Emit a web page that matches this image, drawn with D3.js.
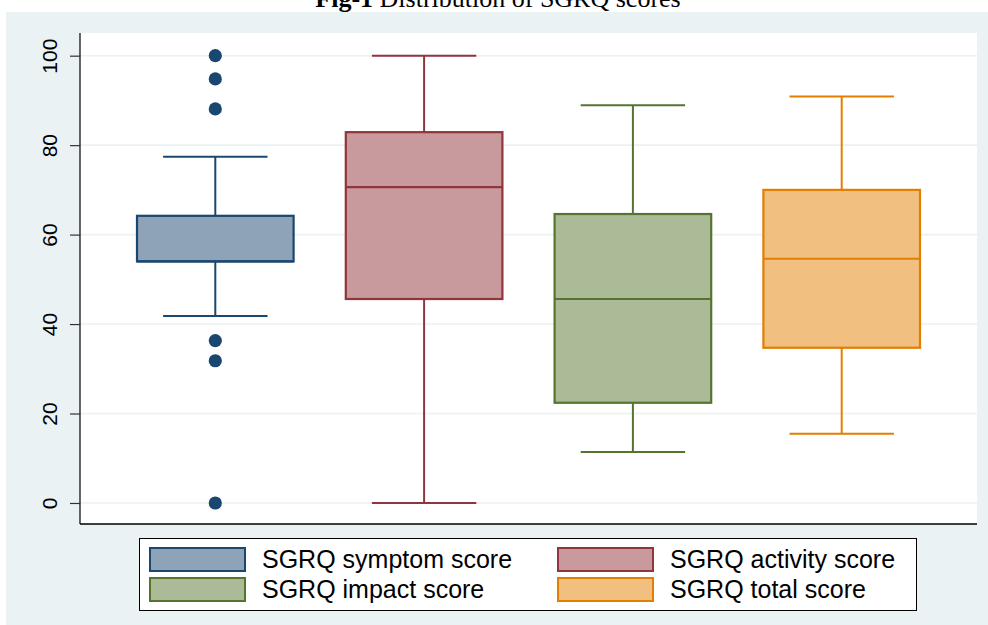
<!DOCTYPE html>
<html>
<head>
<meta charset="utf-8">
<script src="https://cdn.jsdelivr.net/npm/d3@7"></script>
<style>
  html, body { margin: 0; padding: 0; background: #ffffff; }
  svg { display: block; }
</style>
</head>
<body>
<svg id="chart" width="988" height="625"></svg>
<script>
// ---- data ----
const categories = ["SGRQ symptom score", "SGRQ activity score", "SGRQ impact score", "SGRQ total score"];
const lowerWhisker = [41.8, 0, 11.4, 15.5];
const q1Values     = [54.0, 45.6, 22.4, 34.7];
const medianValues = [54.0, 70.6, 45.6, 54.6];
const q3Values     = [64.2, 82.9, 64.6, 70.0];
const upperWhisker = [77.4, 100, 88.9, 90.9];
const outlierValues = [[100, 94.8, 88.1, 36.3, 31.8, 0], [], [], []];
const yTicks = [0, 20, 40, 60, 80, 100];
const titleBold = "Fig-1";
const titleRest = " Distribution of SGRQ scores";

// ---- styles ----
const strokeColors = ["rgb(26,71,111)", "rgb(144,53,59)", "rgb(85,117,47)", "rgb(227,126,0)"];
const fillColors   = ["rgb(142,163,184)", "rgb(200,154,157)", "rgb(171,187,151)", "rgb(241,191,128)"];
const bgColor = "rgb(234,242,243)";
const gridColor = "rgb(234,242,243)";

const svg = d3.select("#chart");

// title (partly cut off at top, as in the reference)
const title = svg.append("text")
  .attr("x", 498).attr("y", 7)
  .attr("text-anchor", "middle")
  .attr("font-family", "'Liberation Serif', 'Times New Roman', serif")
  .attr("font-size", 26)
  .attr("fill", "#000");
title.append("tspan").attr("font-weight", "bold").text(titleBold);
title.append("tspan").text(titleRest);

// graph region background
svg.append("rect").attr("x", 6).attr("y", 12).attr("width", 982).attr("height", 613).attr("fill", bgColor);

// plot region
const plot = { left: 80, right: 977, top: 33, bottom: 524 };
svg.append("rect").attr("x", plot.left).attr("y", plot.top)
  .attr("width", plot.right - plot.left).attr("height", plot.bottom - plot.top).attr("fill", "#fff");

const y = d3.scaleLinear().domain([-4.7, 105.07]).range([plot.bottom, plot.top]);
const x = d3.scalePoint().domain(categories).range([plot.left, plot.right]).padding(0.648);
const step = x.step();
const boxW = step * 0.75;
const capW = step * 0.5;

// gridlines
svg.append("g").selectAll("line").data(yTicks).join("line")
  .attr("x1", plot.left).attr("x2", plot.right)
  .attr("y1", d => y(d)).attr("y2", d => y(d))
  .attr("stroke", gridColor).attr("stroke-width", 1.6);

// boxes
const data = categories.map((c, i) => ({
  c, i, lo: lowerWhisker[i], q1: q1Values[i], med: medianValues[i], q3: q3Values[i], hi: upperWhisker[i], out: outlierValues[i]
}));

const g = svg.append("g").selectAll("g").data(data).join("g");
// whiskers
g.append("line").attr("x1", d => x(d.c)).attr("x2", d => x(d.c))
  .attr("y1", d => y(d.q3)).attr("y2", d => y(d.hi))
  .attr("stroke", d => strokeColors[d.i]).attr("stroke-width", 2);
g.append("line").attr("x1", d => x(d.c)).attr("x2", d => x(d.c))
  .attr("y1", d => y(d.q1)).attr("y2", d => y(d.lo))
  .attr("stroke", d => strokeColors[d.i]).attr("stroke-width", 2);
// caps
g.append("line").attr("x1", d => x(d.c) - capW / 2).attr("x2", d => x(d.c) + capW / 2)
  .attr("y1", d => y(d.hi)).attr("y2", d => y(d.hi))
  .attr("stroke", d => strokeColors[d.i]).attr("stroke-width", 2);
g.append("line").attr("x1", d => x(d.c) - capW / 2).attr("x2", d => x(d.c) + capW / 2)
  .attr("y1", d => y(d.lo)).attr("y2", d => y(d.lo))
  .attr("stroke", d => strokeColors[d.i]).attr("stroke-width", 2);
// box
g.append("rect").attr("x", d => x(d.c) - boxW / 2).attr("width", boxW)
  .attr("y", d => y(d.q3)).attr("height", d => y(d.q1) - y(d.q3))
  .attr("fill", d => fillColors[d.i]).attr("stroke", d => strokeColors[d.i]).attr("stroke-width", 2.2);
// median
g.append("line").attr("x1", d => x(d.c) - boxW / 2).attr("x2", d => x(d.c) + boxW / 2)
  .attr("y1", d => y(d.med)).attr("y2", d => y(d.med))
  .attr("stroke", d => strokeColors[d.i]).attr("stroke-width", 2.2);
// outliers
g.each(function(d) {
  d3.select(this).selectAll("circle").data(d.out).join("circle")
    .attr("cx", x(d.c)).attr("cy", v => y(v)).attr("r", 6.6)
    .attr("fill", strokeColors[d.i]);
});

// y axis
const yAxis = d3.axisLeft(y).tickValues(yTicks).tickSize(10).tickPadding(0);
const ax = svg.append("g").attr("transform", `translate(${plot.left},0)`).call(yAxis);
ax.select(".domain").attr("d", `M0,${plot.top}V${plot.bottom}`).attr("stroke", "#000").attr("stroke-width", 1.2);
ax.selectAll(".tick line").attr("stroke", "#333").attr("stroke-width", 1.2);
ax.selectAll(".tick text")
  .attr("font-family", "'Liberation Sans', Arial, sans-serif")
  .attr("font-size", 21)
  .attr("fill", "#000")
  .attr("text-anchor", "middle")
  .attr("dy", null)
  .attr("x", null)
  .attr("transform", "translate(-23,0) rotate(-90)");

// x axis line (bottom)
svg.append("line").attr("x1", plot.left).attr("x2", plot.right)
  .attr("y1", plot.bottom).attr("y2", plot.bottom)
  .attr("stroke", "#000").attr("stroke-width", 1.4);

// legend
const legend = svg.append("g");
legend.append("rect").attr("x", 139.5).attr("y", 538.5).attr("width", 777).attr("height", 72)
  .attr("fill", "#fff").attr("stroke", "#000").attr("stroke-width", 1);
const legendOrder = [0, 1, 2, 3];
const colX = [150, 558];
const rowY = [548, 578];
legendOrder.forEach((idx, k) => {
  const cx = colX[k % 2], ry = rowY[Math.floor(k / 2)];
  legend.append("rect").attr("x", cx).attr("y", ry).attr("width", 95).attr("height", 23)
    .attr("fill", fillColors[idx]).attr("stroke", strokeColors[idx]).attr("stroke-width", 2);
  legend.append("text").attr("x", cx + 112).attr("y", ry + 20)
    .attr("font-family", "'Liberation Sans', Arial, sans-serif")
    .attr("font-size", 25).attr("fill", "#000")
    .text(categories[idx]);
});
</script>
</body>
</html>
